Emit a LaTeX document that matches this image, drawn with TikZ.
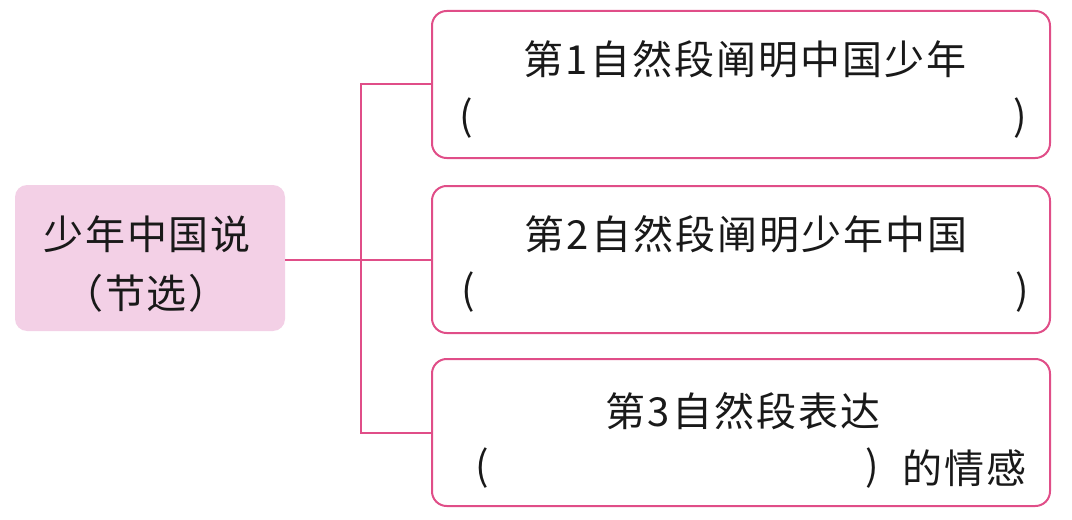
\documentclass[tikz,border=0pt]{standalone}
\usepackage{fontspec}
\newfontfamily\cjk[LetterSpace=5]{Noto Sans CJK SC}
\definecolor{linepink}{RGB}{224,78,136}
\definecolor{rootfill}{RGB}{243,208,230}
\begin{document}
\begin{tikzpicture}[x=0.75pt,y=0.75pt,
  conn/.style={draw=linepink,line width=1.5pt},
  leafbox/.style={draw=linepink,line width=1.5pt,rounded corners=11pt,minimum width=618*0.75pt,minimum height=147*0.75pt,inner sep=0pt},
  rootbox/.style={fill=rootfill,rounded corners=9pt,minimum width=270*0.75pt,minimum height=146*0.75pt,inner sep=0pt},
  txt/.style={font=\cjk\fontsize{30}{34}\selectfont,inner sep=0pt,text=black!90}]
\useasboundingbox (0,0) rectangle (1072,519);
\node[rootbox] (root) at (150,261) {};
\node[txt] (r1) at (147,285) {少年中国说};
\node[txt] (r2) at (146,226) {（节选）};
\node[leafbox] (b1) at (741,434.5) {};
\node[leafbox] (b2) at (741,259.5) {};
\node[leafbox] (b3) at (741,86.5) {};
\coordinate (j) at (361,259.5);
\draw[conn] (root.east |- b2.west) -- (b2.west);
\draw[conn] (b1.west) -- (b1.west -| j) -- (b3.west -| j) -- (b3.west);
% box 1
\node[txt] (t1) at (745,460) {第1自然段阐明中国少年};
\node[txt] (p1l) at (466,401) {(};
\node[txt] (p1r) at (1020,401) {)};
% box 2
\node[txt] (t2) at (746,285) {第2自然段阐明少年中国};
\node[txt] (p2l) at (468,227) {(};
\node[txt] (p2r) at (1022,227) {)};
% box 3
\node[txt] (t3) at (743,108) {第3自然段表达};
\node[txt] (p3l) at (482,51) {(};
\node[txt] (p3r) at (872,51) {)};
\node[txt] (t3b) at (964,51) {的情感};
\end{tikzpicture}
\end{document}
